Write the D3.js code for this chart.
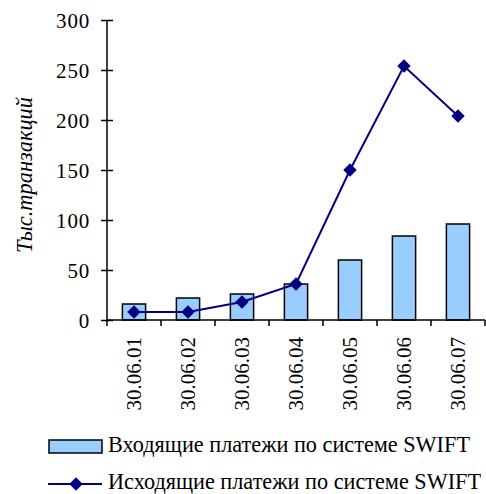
<!DOCTYPE html>
<html><head><meta charset="utf-8">
<script src="https://cdn.jsdelivr.net/npm/d3@7"></script>
<style>body{margin:0;background:#fff}svg{display:block}</style>
</head><body><svg id="c" width="486" height="494"></svg>
<script>
const categories = ["30.06.01","30.06.02","30.06.03","30.06.04","30.06.05","30.06.06","30.06.07"];
const incoming = [16, 22, 26, 36, 60, 84, 96];
const outgoing = [8, 8, 18, 36, 150, 254, 204];
const yTicks = [0, 50, 100, 150, 200, 250, 300];
const seriesNames = ["Входящие платежи по системе SWIFT", "Исходящие платежи по системе SWIFT"];
const yTitle = "Тыс.транзакций";

const FONT = '"Liberation Serif"';
const svg = d3.select("#c");
const x0 = 107, x1 = 485, yTop = 20, yBot = 320;
const x = d3.scaleBand().domain(categories).range([x0, x1]).paddingInner(0).paddingOuter(0);
const y = d3.scaleLinear().domain([0, 300]).range([yBot, yTop]);

function fitText(sel, target) {
  const w = sel.node().getComputedTextLength();
  const fs = parseFloat(sel.attr("font-size"));
  sel.attr("font-size", (fs * target / w).toFixed(2));
}

// bars
const bw = x.bandwidth() * 0.43;
svg.append("g").selectAll("rect").data(categories).join("rect")
  .attr("x", d => x(d) + x.bandwidth()/2 - bw/2)
  .attr("y", (d,i) => y(incoming[i]))
  .attr("width", bw)
  .attr("height", (d,i) => y(0) - y(incoming[i]))
  .attr("fill", "#99CCFF").attr("stroke", "#000").attr("stroke-width", 1.5);

// y axis
const yAxis = svg.append("g").attr("transform", `translate(${x0},0)`)
  .call(d3.axisLeft(y).tickValues(yTicks).tickSize(6).tickSizeOuter(0));
yAxis.attr("font-family", FONT).attr("font-size", 21);
yAxis.select(".domain").remove();
yAxis.selectAll(".tick line").attr("x1", -6).attr("x2", 6).attr("stroke", "#000").attr("stroke-width", 1.5);
yAxis.selectAll(".tick text").attr("x", -17).attr("dy", "0.35em").attr("fill", "#000")
  .attr("font-family", FONT).attr("font-size", 21).attr("letter-spacing", 0.8);
svg.append("line").attr("x1", x0).attr("x2", x0).attr("y1", yTop).attr("y2", yBot)
  .attr("stroke", "#000").attr("stroke-width", 1.5);

// x axis
svg.append("line").attr("x1", x0).attr("x2", x1).attr("y1", yBot).attr("y2", yBot)
  .attr("stroke", "#000").attr("stroke-width", 1.5);
const bounds = categories.map(c => x(c)).concat([x1]);
svg.append("g").selectAll("line").data(bounds).join("line")
  .attr("x1", d => d).attr("x2", d => d).attr("y1", yBot).attr("y2", yBot + 6)
  .attr("stroke", "#000").attr("stroke-width", 1.5);
svg.append("g").selectAll("text").data(categories).join("text")
  .attr("transform", d => `translate(${x(d) + x.bandwidth()/2 + 7},${yBot + 17}) rotate(-90)`)
  .attr("text-anchor", "end")
  .attr("font-family", FONT).attr("font-size", 21)
  .text(d => d);

// line
const line = d3.line().x((d,i) => x(categories[i]) + x.bandwidth()/2).y(d => y(d));
svg.append("path").datum(outgoing).attr("d", line)
  .attr("fill", "none").attr("stroke", "#000080").attr("stroke-width", 2);
svg.append("g").selectAll("path").data(outgoing).join("path")
  .attr("d", d3.symbol().type(d3.symbolSquare).size(90))
  .attr("transform", (d,i) => `translate(${x(categories[i]) + x.bandwidth()/2},${y(d)}) rotate(45)`)
  .attr("fill", "#000080");

// y title
const yt = svg.append("text").attr("transform", "translate(32,175) rotate(-90)")
  .attr("text-anchor", "middle").attr("font-family", FONT).attr("font-size", 20)
  .attr("font-style", "italic").text(yTitle);
fitText(yt, 156);

// legend
const lg = svg.append("g");
lg.append("rect").attr("x", 49).attr("y", 440).attr("width", 53).attr("height", 13)
  .attr("fill", "#99CCFF").attr("stroke", "#000").attr("stroke-width", 1.5);
const l1 = lg.append("text").attr("x", 108).attr("y", 452).attr("font-family", FONT).attr("font-size", 20).text(seriesNames[0]);
fitText(l1, 362);
lg.append("line").attr("x1", 48).attr("x2", 102).attr("y1", 484).attr("y2", 484)
  .attr("stroke", "#000080").attr("stroke-width", 2);
lg.append("path").attr("d", d3.symbol().type(d3.symbolSquare).size(90))
  .attr("transform", "translate(76,484) rotate(45)").attr("fill", "#000080");
const l2 = lg.append("text").attr("x", 108).attr("y", 489).attr("font-family", FONT).attr("font-size", 20).text(seriesNames[1]);
l2.attr("font-size", l1.attr("font-size"));
</script></body></html>
